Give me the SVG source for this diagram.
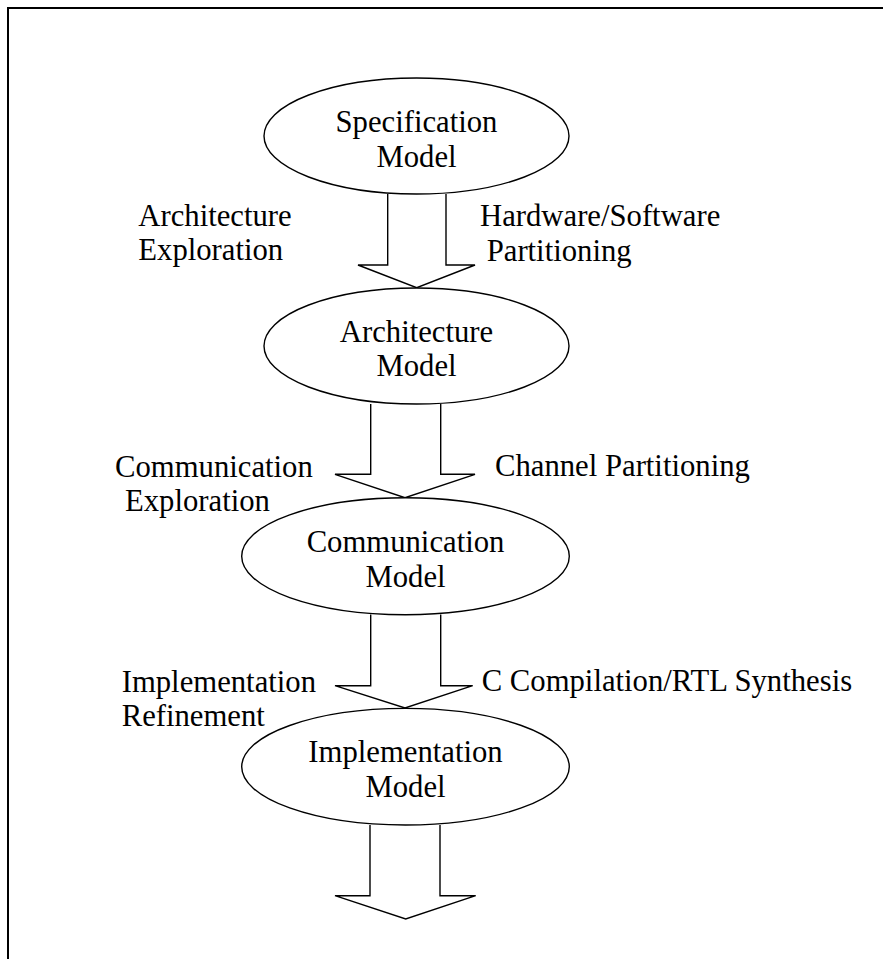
<svg xmlns="http://www.w3.org/2000/svg" width="883" height="959" viewBox="0 0 883 959">
  <style>
    .frame { fill: none; stroke: #000; stroke-width: 2; }
    .model { fill: #fff; stroke: #000; stroke-width: 1.4; }
    .flow { fill: #fff; stroke: #000; stroke-width: 1.4; stroke-linejoin: miter; }
    text { font-family: "Liberation Serif", "Times New Roman", serif; font-size: 30.7px; fill: #000; }
    .mid { text-anchor: middle; }
  </style>

  <!-- page border: top and left edges -->
  <path class="frame" d="M8,959 V8 H883"/>

  <!-- refinement arrows between models -->
  <g id="connectors">
    <path class="flow" d="M387.7,194 V265 H358 L416.7,287.7 L475,265 H446 V194"/>
    <path class="flow" d="M370.7,404 V474.3 H335 L405,497.7 L475,474.3 H440.7 V404"/>
    <path class="flow" d="M370.7,614.5 V685.7 H335 L405,707.9 L472.7,685.7 H440.7 V614.5"/>
    <path class="flow" d="M370,825 V895.7 H335 L405.7,919 L475.7,895.7 H440 V825"/>
  </g>

  <g id="spec-model">
    <ellipse class="model" cx="416.5" cy="136" rx="152.5" ry="58"/>
    <text class="mid" x="416.5" y="132">Specification</text>
    <text class="mid" x="416.5" y="167">Model</text>
  </g>

  <g id="arch-model">
    <ellipse class="model" cx="416.5" cy="346" rx="152.5" ry="58"/>
    <text class="mid" x="416.5" y="341.7">Architecture</text>
    <text class="mid" x="416.5" y="376">Model</text>
  </g>

  <g id="comm-model">
    <ellipse class="model" cx="405.5" cy="556.2" rx="163.8" ry="58.5"/>
    <text class="mid" x="405.5" y="551.7">Communication</text>
    <text class="mid" x="405.5" y="586.7">Model</text>
  </g>

  <g id="impl-model">
    <ellipse class="model" cx="405.5" cy="766.7" rx="163.8" ry="58.3"/>
    <text class="mid" x="405.5" y="761.7">Implementation</text>
    <text class="mid" x="405.5" y="796.7">Model</text>
  </g>

  <!-- step labels -->
  <g id="step-labels">
    <text x="138.3" y="225.7">Architecture</text>
    <text x="138.3" y="260.3">Exploration</text>
    <text x="480" y="225.7">Hardware/Software</text>
    <text x="486.7" y="260.7">Partitioning</text>

    <text x="115" y="476.7">Communication</text>
    <text x="125" y="511">Exploration</text>
    <text x="495" y="475.7">Channel Partitioning</text>

    <text x="121.7" y="691.7">Implementation</text>
    <text x="121.7" y="726">Refinement</text>
    <text x="481.7" y="691">C Compilation/RTL Synthesis</text>
  </g>
</svg>
